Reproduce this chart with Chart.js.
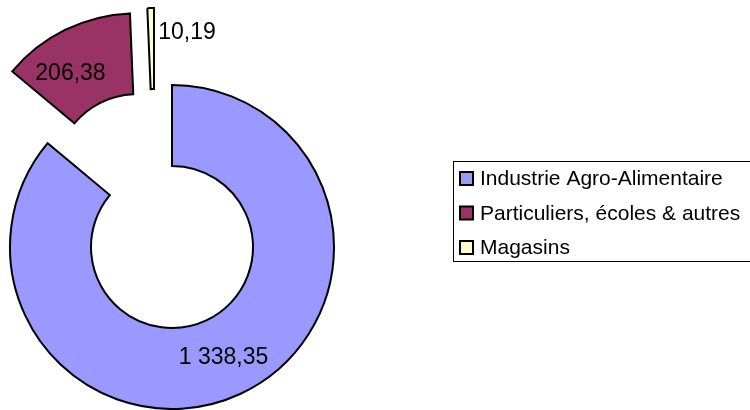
<!DOCTYPE html>
<html lang="fr">
<head>
    <meta charset="UTF-8">
    <title>Répartition par client</title>
    <script src="https://cdn.jsdelivr.net/npm/chart.js@4.4.0/dist/chart.umd.min.js"></script>
    <style>
        html, body {
            margin: 0;
            padding: 0;
            background: #ffffff;
        }
        #wrap {
            width: 750px;
            height: 410px;
        }
    </style>
</head>
<body>
    <div id="wrap">
        <canvas id="donut" width="750" height="410"></canvas>
    </div>

    <script>
        // data
        const categories = ['Industrie Agro-Alimentaire', 'Particuliers, écoles & autres', 'Magasins'];
        const values = [1338.35, 206.38, 10.19];
        const colors = ['#9999FF', '#993366', '#FFFFCC'];

        const FONT = '"Liberation Sans", Arial, sans-serif';

        // french number format: 1 338,35
        function fmt(v) {
            const parts = v.toFixed(2).split('.');
            parts[0] = parts[0].replace(/\B(?=(\d{3})+$)/g, ' ');
            return parts.join(',');
        }

        // Excel-like explosion: chart.js' own offset also shrinks the radii
        // of thin arcs, so we just move each arc as a whole before drawing it.
        // dist in px, tilt in degrees away from the slice's middle direction,
        // labelTilt turns the value label a little (Excel doesn't center it exactly)
        const explodeCfg = [
            { dist: 0, tilt: 0, labelTilt: 0 },
            { dist: 80, tilt: 0, labelTilt: -4 },
            { dist: 79, tilt: -12, labelTilt: 0 }
        ];

        function shiftOf(arc, i) {
            const e = explodeCfg[i];
            const a = (arc.startAngle + arc.endAngle) / 2 + e.tilt * Math.PI / 180;
            return { dx: Math.cos(a) * e.dist, dy: Math.sin(a) * e.dist };
        }

        const explode = {
            id: 'explode',
            beforeDatasetDraw(chart, args) {
                const ctx = chart.ctx;
                args.meta.data.forEach((arc, i) => {
                    const s = shiftOf(arc, i);
                    ctx.save();
                    ctx.translate(s.dx, s.dy);
                    arc.draw(ctx);
                    ctx.restore();
                });
                return false;
            }
        };

        // value labels on the slices
        const sliceLabels = {
            id: 'sliceLabels',
            afterDatasetsDraw(chart) {
                const ctx = chart.ctx;
                const meta = chart.getDatasetMeta(0);
                ctx.save();
                ctx.font = '23px ' + FONT;
                ctx.fillStyle = '#000';
                ctx.textBaseline = 'middle';
                meta.data.forEach((arc, i) => {
                    const mid = (arc.startAngle + arc.endAngle) / 2;
                    const s = shiftOf(arc, i);
                    const text = fmt(values[i]);
                    if (arc.endAngle - arc.startAngle < 0.1) {
                        // too thin, put the label beside it
                        const r = arc.outerRadius - 25;
                        ctx.textAlign = 'left';
                        ctx.fillText(text, arc.x + Math.cos(mid) * r + s.dx + 7, arc.y + Math.sin(mid) * r + s.dy);
                    } else {
                        const r = (arc.innerRadius + arc.outerRadius) / 2;
                        const la = mid + explodeCfg[i].labelTilt * Math.PI / 180;
                        const sa = mid + explodeCfg[i].tilt * Math.PI / 180;
                        const d = explodeCfg[i].dist;
                        ctx.textAlign = 'center';
                        ctx.fillText(text,
                            arc.x + Math.cos(la) * r + Math.cos(la) * d,
                            arc.y + Math.sin(la) * r + Math.sin(la) * d + 1);
                    }
                });
                ctx.restore();
            }
        };

        // boxed legend on the right, like the original
        const legendBox = {
            id: 'legendBox',
            afterDraw(chart) {
                const ctx = chart.ctx;
                ctx.save();
                ctx.strokeStyle = '#000';
                ctx.lineWidth = 1;
                ctx.strokeRect(453.5, 161.5, 320, 100);
                ctx.font = '21px ' + FONT;
                ctx.textBaseline = 'middle';
                ctx.textAlign = 'left';
                categories.forEach((name, i) => {
                    const cy = 178.5 + i * 34.5;
                    ctx.fillStyle = colors[i];
                    ctx.fillRect(460, cy - 6.5, 13, 13);
                    ctx.lineWidth = 2;
                    ctx.strokeRect(460, cy - 6.5, 13, 13);
                    ctx.fillStyle = '#000';
                    ctx.fillText(name, 480, cy + 1);
                });
                ctx.restore();
            }
        };

        const ctx = document.getElementById('donut').getContext('2d');
        const chart = new Chart(ctx, {
            type: 'doughnut',
            data: {
                labels: categories,
                datasets: [{
                    data: values,
                    backgroundColor: colors,
                    borderColor: '#000',
                    borderWidth: 2,
                    borderJoinStyle: 'miter',
                    hoverOffset: 0,
                    clip: false
                }]
            },
            options: {
                responsive: false,
                animation: false,
                events: [],
                radius: 162,
                cutout: '50%',
                layout: {
                    padding: { left: 0, right: 406, top: 84, bottom: 0 }
                },
                plugins: {
                    legend: { display: false },
                    tooltip: { enabled: false }
                }
            },
            plugins: [explode, sliceLabels, legendBox]
        });
    </script>
</body>
</html>
